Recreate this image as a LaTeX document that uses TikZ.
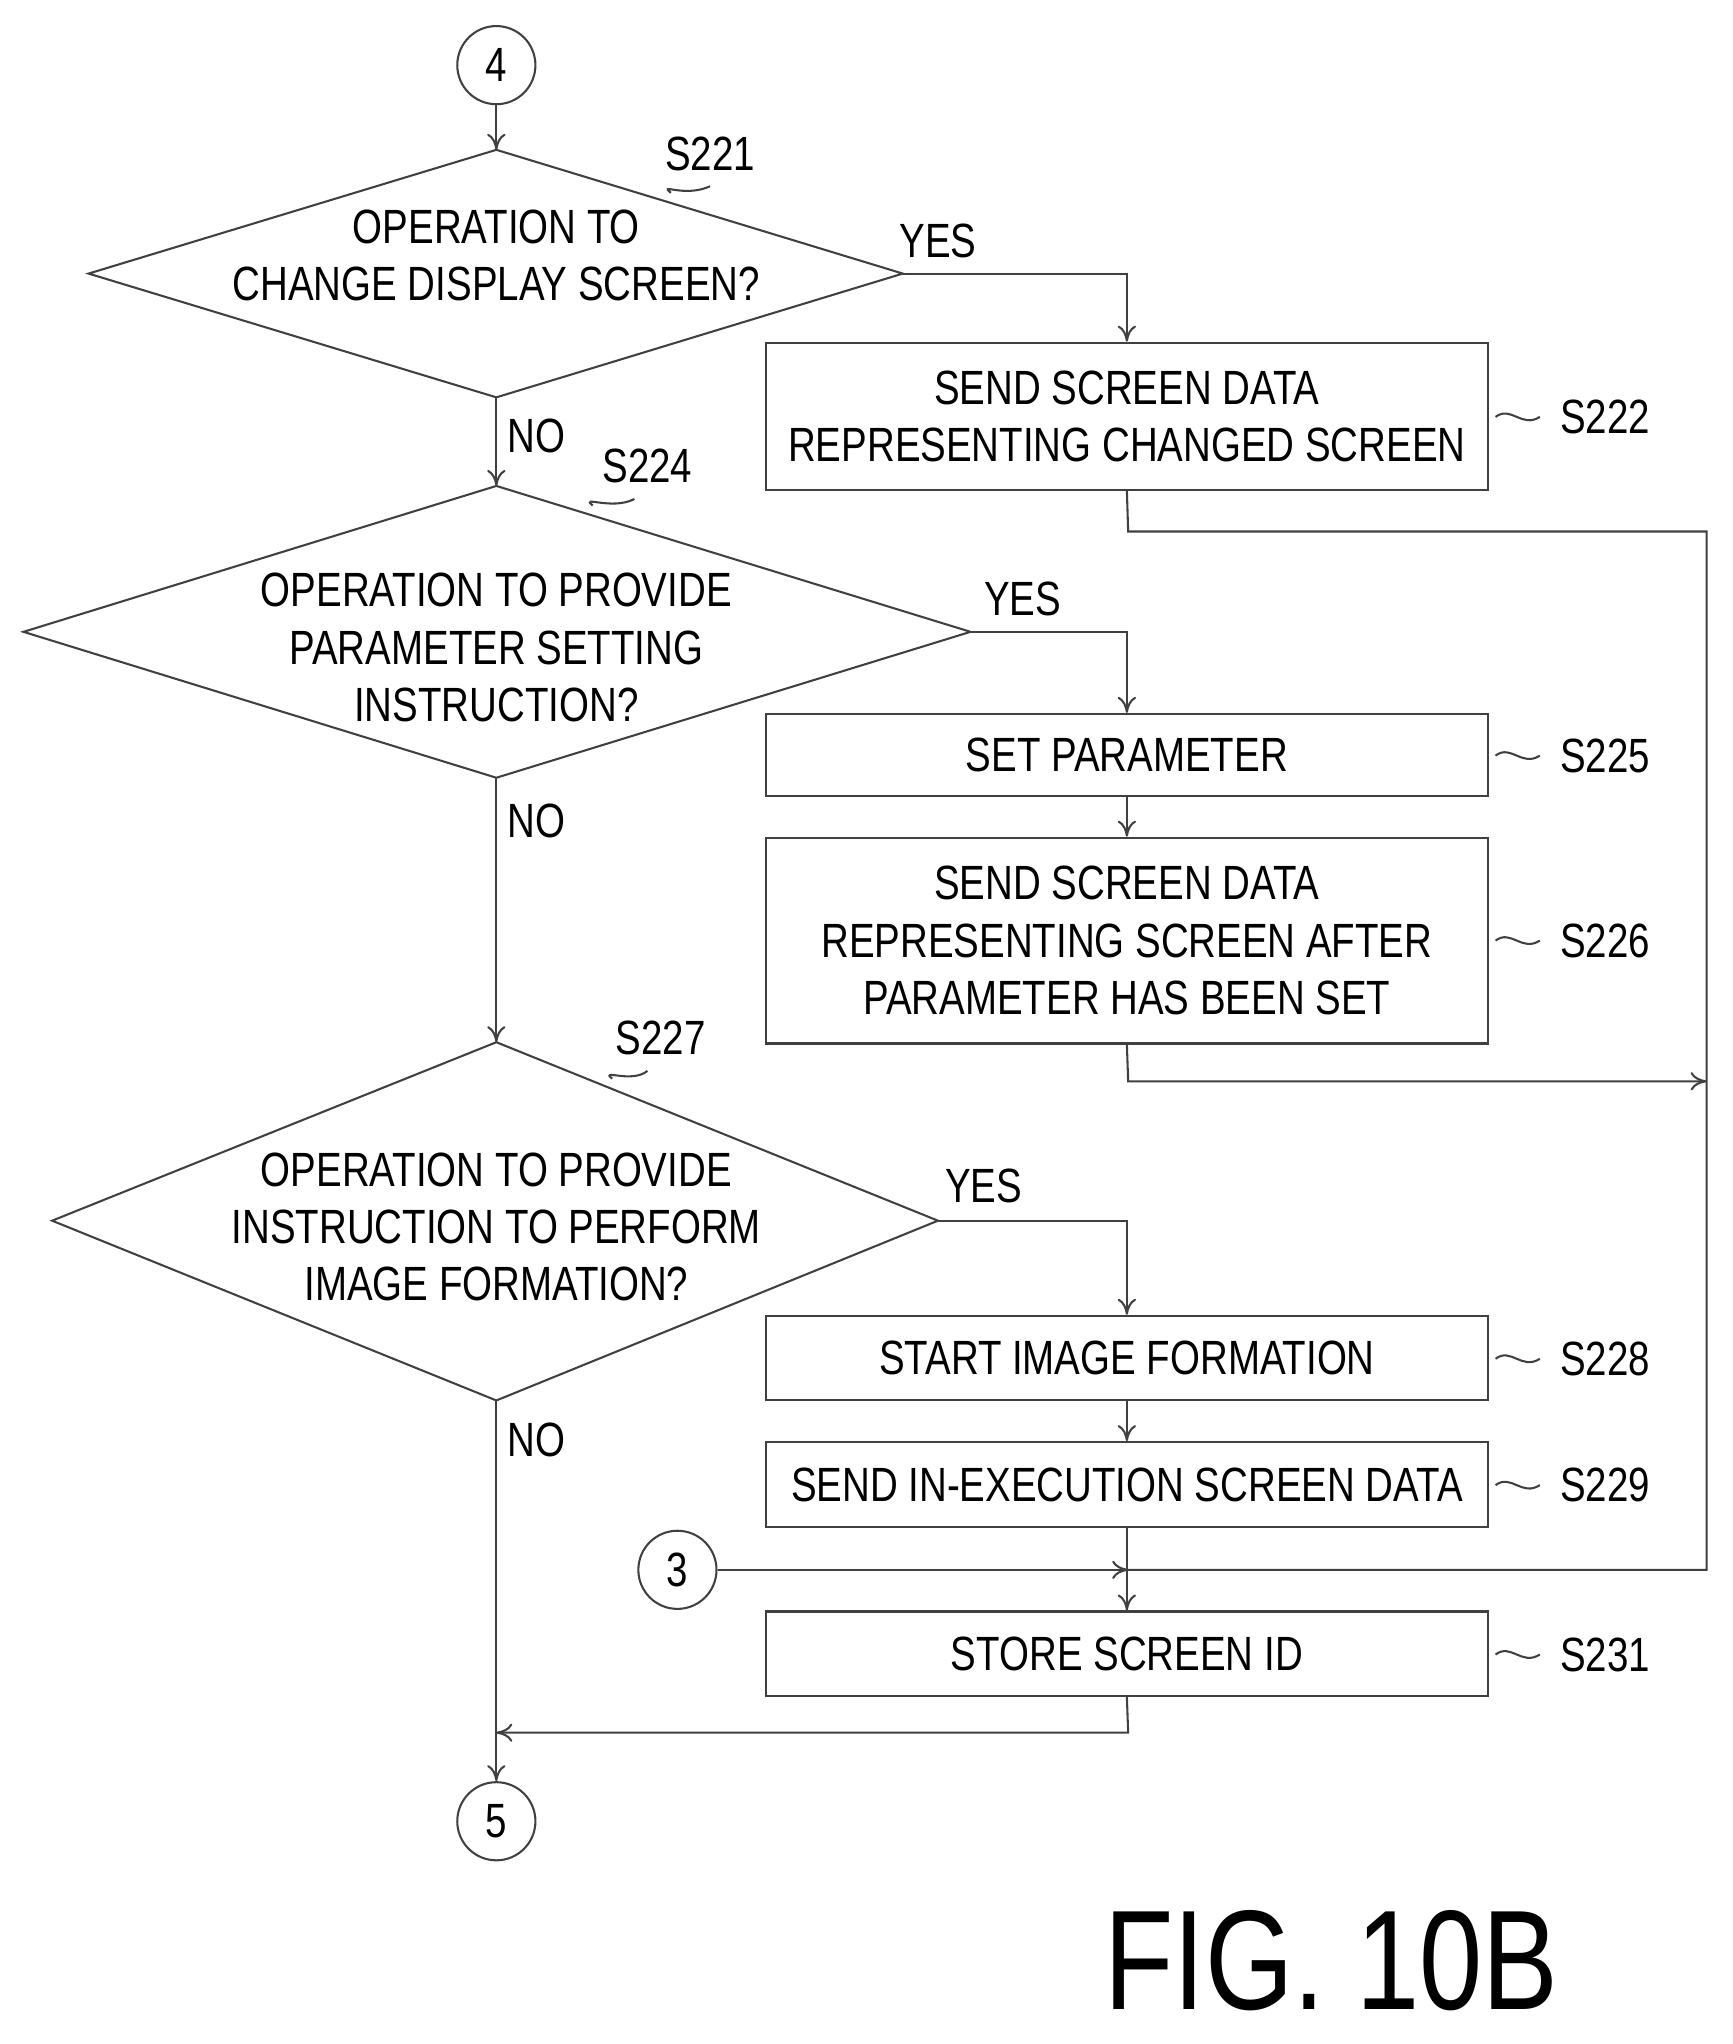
\documentclass[tikz,border=0pt]{standalone}
\usepackage{fontspec}
\setmainfont{Liberation Sans}[FakeStretch=0.8]
\usetikzlibrary{shapes.geometric,arrows.meta}
\begin{document}
\begin{tikzpicture}[x=0.02cm,y=-0.02cm,
  every node/.style={font=\fontsize{21}{25}\selectfont},
  ln/.style={line width=0.9pt,draw=black!75},
  ar/.style={ln,-{To[length=7pt,width=8pt]}},
  box/.style={ln,rectangle,align=center,inner sep=0pt},
  circ/.style={ln,circle,minimum size=1.2cm,inner sep=0pt}]
\useasboundingbox (0,0) rectangle (1330,1569);
\node[circ] (c4) at (381,50) {4};
\node[circ] (c3) at (520,1205) {3};
\node[circ] (c5) at (381,1398) {5};
\draw[ln] (68,210)--(381,115)--(693,210)--(381,305)--cycle;
\node[align=center] (d1) at (381,196) {OPERATION TO\\CHANGE DISPLAY SCREEN?};
\draw[ln] (18,485)--(381,373)--(745,485)--(381,597)--cycle;
\node[align=center] (d2) at (381,497) {OPERATION TO PROVIDE\\PARAMETER SETTING\\INSTRUCTION?};
\draw[ln] (40,937)--(381,800)--(720,937)--(381,1075)--cycle;
\node[align=center] (d3) at (381,942) {OPERATION TO PROVIDE\\INSTRUCTION TO PERFORM\\IMAGE FORMATION?};
\coordinate (d1t) at (381,115); \coordinate (d1b) at (381,305); \coordinate (d1r) at (693,210);
\coordinate (d2t) at (381,373); \coordinate (d2b) at (381,597); \coordinate (d2r) at (745,485);
\coordinate (d3t) at (381,800); \coordinate (d3b) at (381,1075); \coordinate (d3r) at (720,937);
\node[box,minimum width=11.08cm,minimum height=2.26cm] (b222) at (865,319.5) {SEND SCREEN DATA\\REPRESENTING CHANGED SCREEN};
\node[box,minimum width=11.08cm,minimum height=1.26cm] (b225) at (865,579.5) {SET PARAMETER};
\node[box,minimum width=11.08cm,minimum height=3.16cm] (b226) at (865,722) {SEND SCREEN DATA\\REPRESENTING SCREEN AFTER\\PARAMETER HAS BEEN SET};
\node[box,minimum width=11.08cm,minimum height=1.3cm] (b228) at (865,1042.5) {START IMAGE FORMATION};
\node[box,minimum width=11.08cm,minimum height=1.3cm] (b229) at (865,1139.5) {SEND IN-EXECUTION SCREEN DATA};
\node[box,minimum width=11.08cm,minimum height=1.3cm] (b231) at (865,1269.5) {STORE SCREEN ID};
\node (s221) at (545,118) {S221}; \draw[ln] (515,148) .. controls (505,140) and (525,152) .. (545,143);
\node (s224) at (497,358) {S224}; \draw[ln] (455,388) .. controls (445,380) and (470,392) .. (487,383);
\node (s227) at (507,797) {S227}; \draw[ln] (470,828) .. controls (460,820) and (485,832) .. (497,822);
\foreach \n/\y in {222/320,225/580,226/722,228/1043,229/1140,231/1270}{
  \node (l\n) at (1232,\y) {S\n};
  \draw[ln] (1148,\y) .. controls (1160,\y-9) and (1168,\y+9) .. (1182,\y);}
\node at (720,185) {YES}; \node at (785,460) {YES}; \node at (755,910) {YES};
\node at (412,335) {NO}; \node at (412,630) {NO}; \node at (412,1105) {NO};
\coordinate (j) at (866,1205);
\draw[ar] (c4) -- (d1t);
\draw[ar] (d1r) -| (b222.north);
\draw[ar] (d1b) -- (d2t);
\draw[ar] (d2r) -| (b225.north);
\draw[ar] (b225) -- (b226);
\draw[ar] (d2b) -- (d3t);
\draw[ar] (d3r) -| (b228.north);
\draw[ar] (b228) -- (b229);
\draw[ln] (b222.south) -- (866,408) -- (1310,408) -- (1310,1205) -- (j);
\draw[ar] (b226.south) -- (866,830) -- (1310,830);
\draw[ar] (c3) -- (j);
\draw[ar] (b229.south) -- (b231.north);
\draw[ar] (b231.south) -- (866,1330) -- (381,1330);
\draw[ar] (d3b) -- (c5);
\node[font=\fontsize{62}{70}\selectfont] (fig) at (1022,1505) {FIG. 10B};
\end{tikzpicture}
\end{document}
